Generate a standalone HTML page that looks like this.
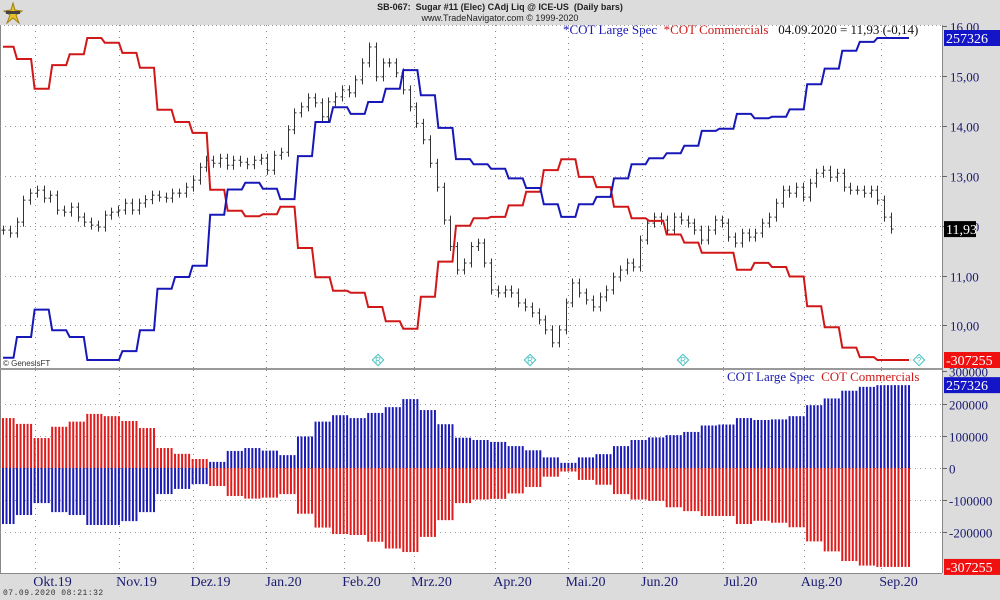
<!DOCTYPE html>
<html><head><meta charset="utf-8"><style>
html,body{margin:0;padding:0;background:#dcdcdc;}
#wrap{position:relative;width:1000px;height:600px;overflow:hidden;background:#dcdcdc;font-family:"Liberation Serif",serif;}
svg{position:absolute;left:0;top:0;}
</style></head><body>
<div id="wrap">
<svg id="chart" width="1000" height="600"></svg>
</div>
<script>
// ---- data ----
const specWeekly = [-174,-146,-109,-137,-146,-177,-177,-165,-137,-81,-65,-50,19,53,62,54,40,98,144,164,155,171,189,214,180,136,94,87,81,68,55,33,16,33,43,68,87,95,102,112,132,135,155,149,151,161,195,216,240,252,257.326,257.326];
const commWeekly = [155,137,93,128,144,168,161,146,124,62,44,28,-56,-87,-95,-92,-81,-142,-185,-205,-208,-229,-250,-261,-214,-162,-109,-98,-96,-79,-59,-27,-11,-37,-52,-81,-98,-102,-122,-134,-149,-149,-174,-164,-170,-184,-228,-259,-289,-303,-307.255,-307.255];
const priceCloses = [11.91,11.85,12.07,12.51,12.65,12.71,12.55,12.61,12.31,12.27,12.37,12.17,12.07,12.01,11.97,12.21,12.27,12.31,12.45,12.31,12.45,12.52,12.61,12.57,12.55,12.65,12.65,12.77,12.91,13.17,13.31,13.25,13.35,13.21,13.31,13.27,13.22,13.31,13.35,13.11,13.41,13.47,13.92,14.26,14.38,14.56,
14.46,14.18,14.48,14.58,14.72,14.66,14.92,15.26,15.58,14.98,15.26,15.26,15.06,14.72,14.38,14.05,13.72,13.25,12.77,12.11,11.58,11.11,11.25,11.58,11.65,11.25,10.71,10.65,10.71,10.65,10.45,10.37,10.25,10.11,9.91,9.65,9.91,10.45,10.85,10.65,10.51,10.37,10.57,10.71,10.97,11.11,11.25,
11.17,11.71,12.05,12.17,12.11,11.91,12.17,12.11,12.05,11.91,11.71,11.91,12.11,12.05,11.77,11.65,11.85,11.77,11.85,12.05,12.17,12.45,12.71,12.65,12.77,12.57,12.85,13.05,13.11,12.97,13.05,12.77,12.71,12.71,12.65,12.71,12.51,12.17,11.93];
const priceTicks = ["16.00","15,00","14,00","13,00","12,00","11,00","10,00"];
const priceTickValues = [16,15,14,13,12,11,10];
const cotTickValues = [300000,200000,100000,0,-100000,-200000];
const cotTickLabels = ["300000","200000","100000","0","-100000","-200000"];
const monthLabels = ["Okt.19","Nov.19","Dez.19","Jan.20","Feb.20","Mrz.20","Apr.20","Mai.20","Jun.20","Jul.20","Aug.20","Sep.20"];
const monthStartDays = [9,33,54,75,97,117,140,161,182,205,228,250];

// ---- layout ----
const NS="http://www.w3.org/2000/svg";
const svg=document.getElementById('chart');
function mk(tag,attrs,parent){const e=document.createElementNS(NS,tag);for(const k in attrs)e.setAttribute(k,attrs[k]);(parent||svg).appendChild(e);return e;}
const PLOT_R=942, TOP_Y0=25, TOP_Y1=368, BOT_Y0=370, BOT_Y1=573;
const NDAYS=specWeekly.length*5-1;
function dayX(d){return 3+d*(906/(NDAYS-1));}
function weekOfDay(d){return Math.floor((d+1)/5);}
function priceY(v){return 26+(16-v)*49.9;}
function cotY(v){return 468-v*32.2/100000;}
const specVals=specWeekly.map(v=>v*1000), commVals=commWeekly.map(v=>v*1000);
const sMin=Math.min(...specVals),sMax=Math.max(...specVals),cMin=Math.min(...commVals),cMax=Math.max(...commVals);
function specTopY(v){return 360-(v-sMin)/(sMax-sMin)*322;}
function commTopY(v){return 360-(v-cMin)/(cMax-cMin)*322;}

let r=mk('rect',{x:0,y:TOP_Y0,width:PLOT_R,height:TOP_Y1-TOP_Y0,fill:'#fff'});


r=mk('rect',{x:0,y:BOT_Y0,width:PLOT_R,height:BOT_Y1-BOT_Y0,fill:'#fff'});


mk('line',{x1:PLOT_R+0.5,y1:TOP_Y0,x2:PLOT_R+0.5,y2:BOT_Y1,stroke:'#888','stroke-width':1});
mk('line',{x1:0.5,y1:TOP_Y0,x2:0.5,y2:BOT_Y1,stroke:'#888','stroke-width':1});
mk('line',{x1:0,y1:TOP_Y1+1,x2:PLOT_R,y2:TOP_Y1+1,stroke:'#999','stroke-width':2});
mk('line',{x1:0,y1:BOT_Y1+0.5,x2:PLOT_R,y2:BOT_Y1+0.5,stroke:'#888','stroke-width':1});
mk('line',{x1:0,y1:TOP_Y0+0.5,x2:PLOT_R,y2:TOP_Y0+0.5,stroke:'#999','stroke-width':1,'stroke-dasharray':'1,3'});

priceTickValues.forEach((v,i)=>{
  const y=Math.round(priceY(v))+0.5;
  if(i>0){const g=mk('line',{x1:0,y1:y,x2:PLOT_R,y2:y,stroke:'#999','stroke-dasharray':'1,4'});
  
  }
  mk('line',{x1:PLOT_R,y1:y,x2:PLOT_R+5,y2:y,stroke:'#666'});
  const t=mk('text',{x:950,y:y+5,fill:'#1a1a70','font-size':'13'});t.textContent=priceTicks[i];
  
  
});
cotTickValues.forEach((v,i)=>{
  const y=Math.round(cotY(v))+0.5;
  if(v!==300000){const g=mk('line',{x1:0,y1:y,x2:PLOT_R,y2:y,stroke:'#999','stroke-dasharray':'1,4'});
  
  }
  mk('line',{x1:PLOT_R,y1:y,x2:PLOT_R+5,y2:y,stroke:'#666'});
  const t=mk('text',{x:949,y:y+5,fill:'#1a1a70','font-size':'13'});t.textContent=cotTickLabels[i];
  
  
});
monthStartDays.forEach((d,i)=>{
  const x=Math.round(dayX(d))+0.5;
  [[TOP_Y0,TOP_Y1],[BOT_Y0,BOT_Y1]].forEach(p=>{
    const g=mk('line',{x1:x,y1:p[0],x2:x,y2:p[1],stroke:'#888','stroke-dasharray':'1,5'});
    
    
  });
  const t=mk('text',{x:x+17,y:586,fill:'#1a1a70','font-size':'14','text-anchor':'middle'});t.textContent=monthLabels[i];
  
  
});

for(let d=0;d<NDAYS;d++){
  const w=weekOfDay(d), x=dayX(d);
  const sv=specVals[w], cv=commVals[w];
  const b1=mk('rect',{x:x-1,y:Math.min(cotY(sv),cotY(0)),width:2,height:Math.abs(cotY(sv)-cotY(0)),fill:'#1c1cb4'});
  
  
  const b2=mk('rect',{x:x-1,y:Math.min(cotY(cv),cotY(0)),width:2,height:Math.abs(cotY(cv)-cotY(0)),fill:'#e01c1c'});
  
  
}

const step=(891-3)/(priceCloses.length-1);
priceCloses.forEach((c,i)=>{
  const o=i>0?priceCloses[i-1]:c;
  const x=Math.round(3+i*step)+0.5;
  const hi=Math.max(o,c)+0.09, lo=Math.min(o,c)-0.09;
  const g=mk('g',{stroke:'#333','stroke-width':1});
  
  
  mk('line',{x1:x,y1:priceY(hi),x2:x,y2:priceY(lo)},g);
  mk('line',{x1:x-2,y1:priceY(o),x2:x,y2:priceY(o)},g);
  mk('line',{x1:x,y1:priceY(c),x2:x+2,y2:priceY(c)},g);
});

function stepLine(vals,fn,color,name){
  let pts=[];
  for(let d=0;d<NDAYS;d++){pts.push(dayX(d).toFixed(1)+','+fn(vals[weekOfDay(d)]).toFixed(1));}
  const p=mk('polyline',{points:pts.join(' '),fill:'none',stroke:color,'stroke-width':2});
  
  
}
stepLine(commVals,commTopY,'#d01818','commercials-line');
stepLine(specVals,specTopY,'#1818b8','large-spec-line');

function box(x,y,w,txt,bg,fg,name){
  const g=mk('g',{});
  
  
  mk('rect',{x:x,y:y-8,width:w,height:16,fill:bg},g);
  const t=mk('text',{x:x+2,y:y+5,fill:fg,'font-size':'14'},g);t.textContent=txt;
}
box(944,specTopY(specVals[specVals.length-1]),56,'257326','#1515c8','#fff','spec-top-value-box');
box(944,priceY(priceCloses[priceCloses.length-1]),32,'11,93','#000','#fff','price-value-box');
box(944,commTopY(commVals[commVals.length-1]),56,'-307255','#f01010','#fff','comm-top-value-box');
box(944,cotY(specVals[specVals.length-1]),56,'257326','#1515c8','#fff','spec-bottom-value-box');
box(944,cotY(commVals[commVals.length-1]),56,'-307255','#f01010','#fff','comm-bottom-value-box');

[378,530,683].forEach(x=>{
  const g=mk('g',{});
  
  
  mk('rect',{x:x-4,y:356,width:8,height:8,fill:'#fff',stroke:'#40c0c0',transform:'rotate(45 '+x+' 360)'},g);
  const t=mk('text',{x:x,y:363,fill:'#40c0c0','font-size':'8','text-anchor':'middle','font-family':'Liberation Sans'},g);t.textContent='R';
});
{const g=mk('g',{});


mk('rect',{x:915,y:356,width:8,height:8,fill:'#fff',stroke:'#40c0c0',transform:'rotate(45 919 360)'},g);
const t=mk('text',{x:919,y:363,fill:'#40c0c0','font-size':'8','text-anchor':'middle','font-family':'Liberation Sans'},g);t.textContent='?';}

mk('line',{x1:dayX(NDAYS-1),y1:360,x2:909,y2:360,stroke:'#d01818','stroke-width':2});
</script>
<div style="position:absolute;left:0;top:2px;width:1000px;text-align:center;font-family:'Liberation Sans',sans-serif;font-size:9px;font-weight:bold;color:#222;">SB-067:&nbsp; Sugar #11 (Elec) CAdj Liq @ ICE-US&nbsp; (Daily bars)</div>
<div style="position:absolute;left:0;top:13px;width:1000px;text-align:center;font-family:'Liberation Sans',sans-serif;font-size:9px;color:#222;">www.TradeNavigator.com © 1999-2020</div>
<div style="position:absolute;left:2px;top:2px;width:22px;height:22px;">
<svg width="22" height="22"><path d="M11 1 L13 8 L20 9 L14 13 L17 21 L11 16 L5 21 L8 13 L2 9 L9 8Z" fill="#e6c22a" stroke="#a08010"/><rect x="4" y="9" width="14" height="3" fill="#444"/></svg></div>
<div style="position:absolute;left:563px;top:22px;font-size:13px;white-space:nowrap;"><span style="color:#1a1ab0">*COT Large Spec</span>&nbsp; <span style="color:#d01818">*COT Commercials</span>&nbsp;&nbsp; <span style="color:#111">04.09.2020 = 11,93 (-0,14)</span></div>
<div style="position:absolute;left:727px;top:369px;font-size:13px;white-space:nowrap;"><span style="color:#1a1ab0">COT Large Spec</span>&nbsp; <span style="color:#d01818">COT Commercials</span></div>
<div style="position:absolute;left:3px;top:359px;font-family:'Liberation Sans',sans-serif;font-size:8px;color:#333;">© GenesisFT</div>
<div style="position:absolute;left:3px;top:589px;font-family:'Liberation Mono',monospace;font-size:8px;color:#333;letter-spacing:0.5px;">07.09.2020 08:21:32</div>
</body></html>
